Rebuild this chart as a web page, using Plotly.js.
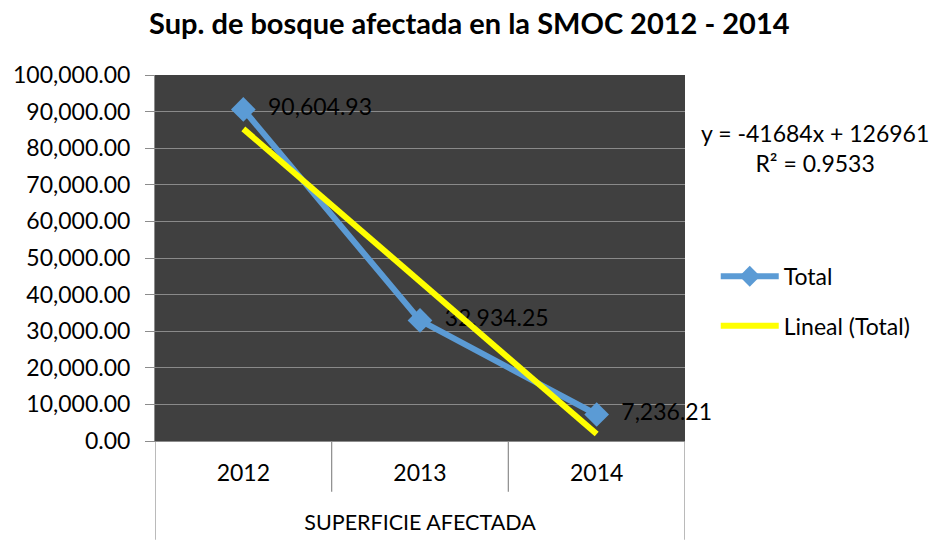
<!DOCTYPE html>
<html>
<head>
<meta charset="utf-8">
<script src="https://cdn.plot.ly/plotly-3.0.1.min.js"></script>
<style>html,body{margin:0;padding:0;background:#fff;}#chart{width:933px;height:540px;}</style>
</head>
<body>
<div id="chart"></div>
<script>
const categories = ["2012", "2013", "2014"];
const totalValues = [90604.93, 32934.25, 7236.21];
const trendSlope = -41684;
const trendIntercept = 126961;
const trendR2 = 0.9533;
const outerCategory = "SUPERFICIE AFECTADA";
const titleText = "Sup. de bosque afectada en la SMOC 2012 - 2014";

const FONT = "Lato, Carlito, Calibri, sans-serif";
const FS = 23;
const fmt = v => v.toLocaleString("en-US", {minimumFractionDigits: 2, maximumFractionDigits: 2});

const trendX = [categories[0], categories[categories.length - 1]];
const trendY = [trendIntercept + trendSlope * 1, trendIntercept + trendSlope * categories.length];

const traces = [
  {
    type: "scatter", mode: "lines+markers+text", name: "Total",
    x: categories, y: totalValues,
    text: totalValues.map(v => "\u00a0\u00a0" + fmt(v)), textposition: "middle right",
    textfont: {family: FONT, size: FS, color: "#000"},
    line: {color: "#5B9BD5", width: 6},
    marker: {symbol: "diamond", size: 19, color: "#5B9BD5"},
    legend: "legend", cliponaxis: false
  },
  {
    type: "scatter", mode: "lines", name: "Lineal (Total)",
    x: trendX, y: trendY,
    line: {color: "#FFFF00", width: 6},
    legend: "legend2"
  }
];

// separators of the category axis
const shapes = [];
for (let i = 0; i <= categories.length; i++) {
  const outer = (i === 0 || i === categories.length);
  shapes.push({type: "line", xref: "x", yref: "paper", x0: i - 0.5, x1: i - 0.5,
    y0: 0, y1: outer ? -0.27 : -0.139, line: {color: "#8c8c8c", width: 1.2}});
}

const layout = {
  width: 933, height: 540,
  margin: {l: 155, r: 248, t: 74.5, b: 99, pad: 0},
  paper_bgcolor: "#ffffff", plot_bgcolor: "#404040",
  font: {family: FONT, size: FS, color: "#000"},
  title: {text: "<b>" + titleText + "</b>", font: {family: FONT, size: 29, color: "#000"},
    x: 0.503, xanchor: "center", y: 0.955, yanchor: "middle"},
  xaxis: {type: "category", range: [-0.5, categories.length - 0.5], showgrid: false,
    showline: true, linecolor: "#8c8c8c", linewidth: 1, ticks: "", zeroline: false,
    tickfont: {family: FONT, size: FS, color: "#000"}, ticklabelstandoff: 11,
    title: {text: outerCategory, font: {family: FONT, size: 21.5, color: "#000"}, standoff: 30},
    automargin: false, fixedrange: true},
  yaxis: {range: [0, 100000], dtick: 10000, tickformat: ",.2f",
    showgrid: true, gridcolor: "#8a8a8a", gridwidth: 1, zeroline: false,
    showline: true, linecolor: "#8c8c8c", linewidth: 1,
    ticks: "outside", ticklen: 9, tickcolor: "#8c8c8c", ticklabelstandoff: 10,
    tickfont: {family: FONT, size: FS, color: "#000"}, automargin: false, fixedrange: true},
  showlegend: true,
  legend: {x: 1.058, xanchor: "left", y: 0.45, yanchor: "middle", bgcolor: "rgba(0,0,0,0)",
    font: {family: FONT, size: FS, color: "#000"}, itemwidth: 58},
  legend2: {x: 1.058, xanchor: "left", y: 0.315, yanchor: "middle", bgcolor: "rgba(0,0,0,0)",
    font: {family: FONT, size: FS, color: "#000"}, itemwidth: 58},
  shapes: shapes,
  annotations: [
    {xref: "paper", yref: "paper", x: 1.245, y: 0.80, xanchor: "center", yanchor: "middle",
      text: "y = " + trendSlope + "x + " + trendIntercept + "<br>R² = " + trendR2,
      showarrow: false, align: "center", font: {family: FONT, size: FS, color: "#000"}}
  ]
};

Plotly.newPlot("chart", traces, layout, {displayModeBar: false, staticPlot: true});
</script>
</body>
</html>
